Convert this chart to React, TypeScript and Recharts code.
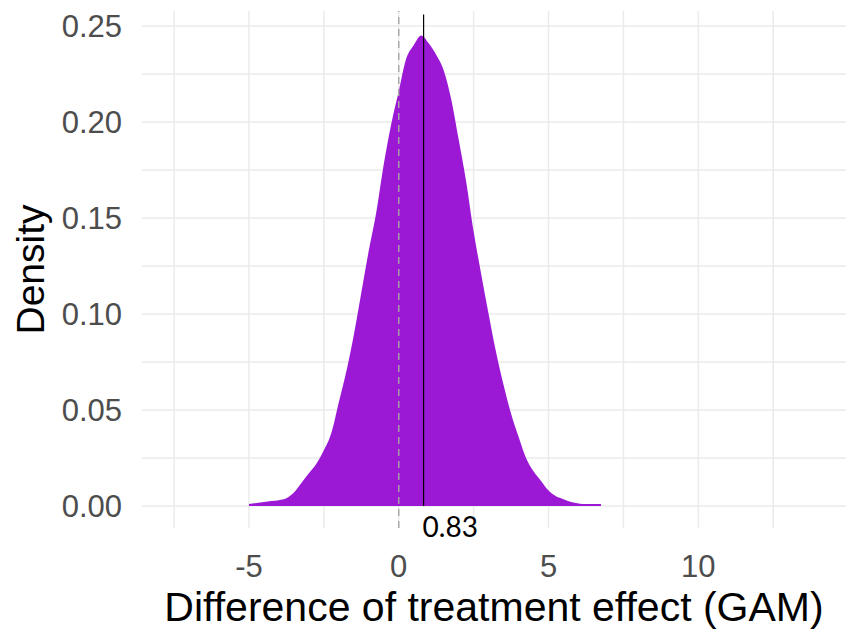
import {
  AreaChart,
  Area,
  XAxis,
  YAxis,
  CartesianGrid,
  ReferenceLine,
  Label,
} from 'recharts';

// effect difference (x) and estimated density (y)
const effect = [
  -5, -4.75, -4.5, -4.25, -4, -3.75, -3.5, -3.25, -3, -2.75, -2.5, -2.25, -2,
  -1.75, -1.5, -1.25, -1, -0.75, -0.5, -0.25, 0, 0.25, 0.5, 0.75, 1, 1.25, 1.5,
  1.75, 2, 2.25, 2.5, 2.75, 3, 3.25, 3.5, 3.75, 4, 4.25, 4.5, 4.75, 5, 5.25, 5.5,
  5.75, 6, 6.25, 6.5, 6.75,
];
const density = [
  0.001, 0.0015, 0.002, 0.0025, 0.003, 0.004, 0.007, 0.012, 0.017, 0.022, 0.029,
  0.038, 0.054, 0.07, 0.089, 0.111, 0.133, 0.153, 0.178, 0.199, 0.216, 0.233,
  0.24, 0.245, 0.241, 0.235, 0.227, 0.212, 0.191, 0.169, 0.143, 0.121, 0.1,
  0.08, 0.063, 0.048, 0.036, 0.025, 0.018, 0.013, 0.008, 0.005, 0.0035, 0.002,
  0.0013, 0.001, 0.001, 0.001,
];

const xTicks = [-7.5, -5, -2.5, 0, 2.5, 5, 7.5, 10, 12.5];
const yTicks = [0, 0.025, 0.05, 0.075, 0.1, 0.125, 0.15, 0.175, 0.2, 0.225, 0.25];
const meanEffect = 0.83;

const data = effect.map((x, i) => ({ x, y: density[i] }));

const axisFont = '"Liberation Sans", Arial, sans-serif';

function MeanLabel({ viewBox }: any) {
  if (!viewBox) return null;
  return (
    <text
      x={viewBox.x - 1}
      y={viewBox.y + viewBox.height + 31}
      fontFamily="Lato, sans-serif"
      fontSize={28}
      fill="#000"
    >
      {meanEffect}
    </text>
  );
}

export default function App() {
  return (
    <div style={{ position: 'absolute', left: 0, top: 0, width: 846, height: 632, background: '#fff' }}>
      <AreaChart
        width={846}
        height={632}
        data={data}
        margin={{ top: 11, right: 0, bottom: 0, left: 0 }}
      >
        <CartesianGrid
          stroke="#ebebeb"
          strokeWidth={1.5}
          syncWithTicks
          horizontalValues={yTicks}
          verticalValues={xTicks}
        />
        <XAxis
          type="number"
          dataKey="x"
          domain={[-8.57, 14.93]}
          allowDataOverflow
          ticks={xTicks}
          interval={0}
          tickFormatter={(v: number) => (v % 5 === 0 ? String(v) : '')}
          tickLine={false}
          axisLine={false}
          tickSize={0}
          tickMargin={27}
          height={104}
          tick={{ fill: '#4d4d4d', fontSize: 31, fontFamily: axisFont }}
        >
          <Label
            value="Difference of treatment effect (GAM)"
            position="insideBottom"
            offset={11}
            style={{ fill: '#000', fontSize: 41, fontFamily: axisFont }}
          />
        </XAxis>
        <YAxis
          type="number"
          domain={[-0.0115, 0.2578]}
          allowDataOverflow
          ticks={yTicks}
          interval={0}
          tickFormatter={(v: number) => (Math.round(v * 1000) % 50 === 0 ? v.toFixed(2) : '')}
          tickLine={false}
          axisLine={false}
          tickSize={0}
          tickMargin={20}
          width={142}
          tick={{ fill: '#4d4d4d', fontSize: 31, fontFamily: axisFont }}
        >
          <Label
            value="Density"
            angle={-90}
            position="insideLeft"
            offset={30}
            style={{ fill: '#000', fontSize: 39, fontFamily: axisFont, textAnchor: 'middle' }}
          />
        </YAxis>
        <Area
          type="monotone"
          dataKey="y"
          fill="#9b19d5"
          fillOpacity={1}
          stroke="none"
          isAnimationActive={false}
        />
        <ReferenceLine
          x={0}
          stroke="#a6a6a6"
          strokeWidth={1.4}
          strokeDasharray="7 5"
        />
        <ReferenceLine
          segment={[
            { x: meanEffect, y: 0 },
            { x: meanEffect, y: 0.256 },
          ]}
          stroke="#000"
          strokeWidth={1.2}
          label={<MeanLabel />}
        />
      </AreaChart>
    </div>
  );
}
